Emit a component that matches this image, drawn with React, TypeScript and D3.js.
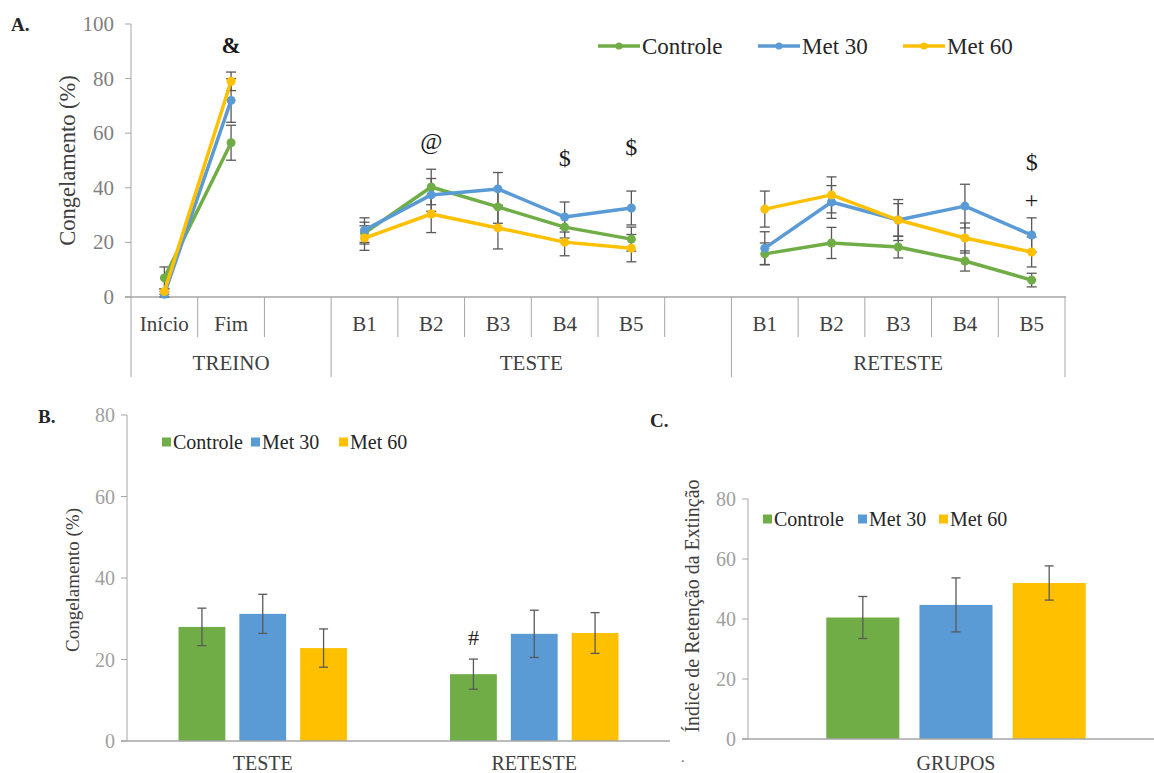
import React from 'react'
import * as d3 from 'd3'

// panel A: 14 slots (blank slots separate the phases)
const slotsA = ['Início', 'Fim', '', 'B1', 'B2', 'B3', 'B4', 'B5', '', 'B1', 'B2', 'B3', 'B4', 'B5']
const phasesA = ['TREINO', 'TESTE', 'RETESTE']
const phaseSlotsA = [[0, 3], [3, 9], [9, 14]]

const controleA = [7, 56.5, null, 23.4, 40.3, 33, 25.6, 21.2, null, 15.8, 19.8, 18.3, 13.2, 6.2]
const controleErrA = [4, 6.4, null, 4, 6.5, 6, 4, 4.4, null, 4, 5.7, 4, 3.7, 2.5]
const met30A = [1, 72, null, 24.5, 37.4, 39.6, 29.3, 32.6, null, 17.9, 34.8, 28.2, 33.3, 22.7]
const met30ErrA = [1, 8, null, 4.5, 6, 6, 5.5, 6.2, null, 6, 6, 7.5, 8, 6.3]
const met60A = [2, 79, null, 21.6, 30.4, 25.3, 20.1, 17.9, null, 32.2, 37.4, 28.2, 21.6, 16.5]
const met60ErrA = [1, 3.4, null, 4.5, 6.8, 7.7, 5, 5, null, 6.6, 6.6, 6, 5.5, 5.5]

// significance marks: slot index, symbol, height in % units
const marksSlot = [1, 4, 6, 7, 13, 13]
const marksText = ['&', '@', '$', '$', '$', '+']
const marksValue = [92, 57, 51, 55, 49.5, 35.5]

// panel B
const catsB = ['TESTE', 'RETESTE']
const controleB = [28, 16.4]
const controleErrB = [4.6, 3.7]
const met30B = [31.2, 26.3]
const met30ErrB = [4.8, 5.8]
const met60B = [22.8, 26.5]
const met60ErrB = [4.7, 5]

// panel C
const catsC = ['GRUPOS']
const controleC = [40.5]
const controleErrC = [7]
const met30C = [44.7]
const met30ErrC = [9]
const met60C = [52]
const met60ErrC = [5.7]

const seriesNames = ['Controle', 'Met 30', 'Met 60']
const colors = ['#70AD47', '#5B9BD5', '#FFC000']

const axisGray = '#A6A6A6'
const errColor = '#595959'

function PanelA() {
  const x = d3.scaleBand<number>().domain(d3.range(slotsA.length)).range([131, 1065]).padding(0)
  const y = d3.scaleLinear().domain([0, 100]).range([297, 24])
  const bw = x.bandwidth()
  const cx = (i: number) => (x(i) as number) + bw / 2
  const values = [controleA, met30A, met60A]
  const errs = [controleErrA, met30ErrA, met60ErrA]
  const line = d3
    .line<number | null>()
    .defined(d => d != null)
    .x((d, i) => cx(i))
    .y(d => y(d as number))
  const boundaries = d3.range(slotsA.length + 1)
  const phaseEdges = phaseSlotsA.flat()
  const edgeX = (b: number) => (b < slotsA.length ? (x(b) as number) : 1065)

  return (
    <g>
      <text x={11} y={31} fontSize={19} fontWeight="bold" fill="#262626">A.</text>
      {y.ticks(5).map(t => (
        <g key={t}>
          <line x1={125} x2={131} y1={y(t)} y2={y(t)} stroke={axisGray} />
          <text x={114} y={y(t)} fontSize={21} fill="#7F7F7F" textAnchor="end" dominantBaseline="central">{t}</text>
        </g>
      ))}
      <line x1={131} x2={131} y1={y(100)} y2={y(0)} stroke={axisGray} />
      <text transform={`translate(67,${(y(0) + y(100)) / 2}) rotate(-90)`} fontSize={22.5} fill="#404040" textAnchor="middle" dominantBaseline="central">Congelamento (%)</text>

      <line x1={125} x2={1066} y1={y(0)} y2={y(0)} stroke={axisGray} strokeWidth={1.5} />
      {boundaries.map(b => (
        <line key={b} x1={edgeX(b)} x2={edgeX(b)} y1={y(0)} y2={phaseEdges.includes(b) ? 377 : 337} stroke={axisGray} />
      ))}
      {slotsA.map((s, i) => (
        <text key={i} x={cx(i)} y={324} fontSize={21} fill="#404040" textAnchor="middle" dominantBaseline="central">{s}</text>
      ))}
      {phasesA.map((p, i) => {
        const [a, b] = phaseSlotsA[i]
        return <text key={p} x={(edgeX(a) + edgeX(b)) / 2} y={363} fontSize={21} fill="#404040" textAnchor="middle" dominantBaseline="central">{p}</text>
      })}

      {values.map((vals, s) => (
        <g key={s}>
          {vals.map((v, i) =>
            v == null ? null : (
              <g key={i} stroke={errColor} strokeWidth={1.3}>
                <line x1={cx(i)} x2={cx(i)} y1={y(v + (errs[s][i] as number))} y2={y(v - (errs[s][i] as number))} />
                <line x1={cx(i) - 5} x2={cx(i) + 5} y1={y(v + (errs[s][i] as number))} y2={y(v + (errs[s][i] as number))} />
                <line x1={cx(i) - 5} x2={cx(i) + 5} y1={y(v - (errs[s][i] as number))} y2={y(v - (errs[s][i] as number))} />
              </g>
            )
          )}
        </g>
      ))}
      {values.map((vals, s) => (
        <g key={s}>
          <path d={line(vals) as string} fill="none" stroke={colors[s]} strokeWidth={3.5} strokeLinejoin="round" />
          {vals.map((v, i) => (v == null ? null : <circle key={i} cx={cx(i)} cy={y(v)} r={4.5} fill={colors[s]} />))}
        </g>
      ))}

      {marksText.map((m, i) => (
        <text key={i} x={cx(marksSlot[i])} y={y(marksValue[i])} fontSize={m === '&' ? 23 : 24} fontWeight={m === '&' ? 'bold' : 'normal'} fill="#1a1a1a" textAnchor="middle" dominantBaseline="central">{m}</text>
      ))}

      {seriesNames.map((n, i) => {
        const lx = [598, 758, 903][i]
        return (
          <g key={n}>
            <line x1={lx} x2={lx + 42} y1={46} y2={46} stroke={colors[i]} strokeWidth={3.5} />
            <circle cx={lx + 21} cy={46} r={3.5} fill={colors[i]} />
            <text x={lx + 44} y={46} fontSize={23} fill="#262626" dominantBaseline="central">{n}</text>
          </g>
        )
      })}
    </g>
  )
}

type BarProps = {
  cats: string[]
  vals: number[][]
  errs: number[][]
  x0: number
  x1: number
  y0: number
  y80: number
  gap: number
  legendX: number[]
  legendY: number
}

function barScales(cats: string[], x0: number, x1: number, gap: number) {
  const x = d3.scaleBand().domain(cats).range([x0, x1]).padding(0)
  const bw = x.bandwidth()
  const groupW = bw * 0.672
  const xs = d3.scaleBand().domain(seriesNames).range([0, groupW]).paddingInner(gap).paddingOuter(gap / 2)
  const barX = (c: string, s: string) => (x(c) as number) + (bw - groupW) / 2 + (xs(s) as number)
  return { x, bw, xs, barX }
}

function BarPanel(p: BarProps) {
  const { x, bw, xs, barX } = barScales(p.cats, p.x0, p.x1, p.gap)
  const y = d3.scaleLinear().domain([0, 80]).range([p.y0, p.y80])
  return (
    <g>
      {y.ticks(4).map(t => (
        <g key={t}>
          <line x1={p.x0 - 6} x2={p.x0} y1={y(t)} y2={y(t)} stroke={axisGray} />
          <text x={p.x0 - 12} y={y(t)} fontSize={20} fill="#A0A0A0" textAnchor="end" dominantBaseline="central">{t}</text>
        </g>
      ))}
      <line x1={p.x0} x2={p.x0} y1={y(80)} y2={y(0)} stroke={axisGray} />
      {p.cats.map((c, ci) => (
        <g key={c}>
          {seriesNames.map((s, i) => {
            const v = p.vals[i][ci]
            const e = p.errs[i][ci]
            const bx = barX(c, s)
            const mx = bx + xs.bandwidth() / 2
            return (
              <g key={s}>
                <rect x={bx} y={y(v)} width={xs.bandwidth()} height={y(0) - y(v)} fill={colors[i]} />
                <g stroke={errColor} strokeWidth={1.3}>
                  <line x1={mx} x2={mx} y1={y(v + e)} y2={y(v - e)} />
                  <line x1={mx - 4.5} x2={mx + 4.5} y1={y(v + e)} y2={y(v + e)} />
                  <line x1={mx - 4.5} x2={mx + 4.5} y1={y(v - e)} y2={y(v - e)} />
                </g>
              </g>
            )
          })}
          <text x={(x(c) as number) + bw / 2} y={763} fontSize={20} fill="#404040" textAnchor="middle" dominantBaseline="central">{c}</text>
        </g>
      ))}
      <line x1={p.x0 - 6} x2={p.x1} y1={y(0)} y2={y(0)} stroke={axisGray} strokeWidth={1.5} />
      {seriesNames.map((n, i) => (
        <g key={n}>
          <rect x={p.legendX[i]} y={p.legendY - 4.5} width={9} height={9} fill={colors[i]} />
          <text x={p.legendX[i] + 11} y={p.legendY} fontSize={20} fill="#262626" dominantBaseline="central">{n}</text>
        </g>
      ))}
    </g>
  )
}

// "#" over the RETESTE Controle bar, placed through panel B's scales
function HashMark() {
  const { xs, barX } = barScales(catsB, 127, 670, 0.23)
  const y = d3.scaleLinear().domain([0, 80]).range([741, 415])
  const mx = barX('RETESTE', 'Controle') + xs.bandwidth() / 2
  return (
    <text x={mx} y={y(25.5)} fontSize={22} fill="#262626" textAnchor="middle" dominantBaseline="central">#</text>
  )
}

export default function App() {
  return (
    <svg width={1154} height={773} style={{ position: 'absolute', left: 0, top: 0, background: '#fff' }}>
      <style>{`text { font-family: "Liberation Serif", "DejaVu Serif", serif; }`}</style>
      <PanelA />

      <text x={38} y={423} fontSize={19} fontWeight="bold" fill="#262626">B.</text>
      <text transform="translate(72,580) rotate(-90)" fontSize={19} fill="#404040" textAnchor="middle" dominantBaseline="central">Congelamento (%)</text>
      <BarPanel
        cats={catsB}
        vals={[controleB, met30B, met60B]}
        errs={[controleErrB, met30ErrB, met60ErrB]}
        x0={127}
        x1={670}
        y0={741}
        y80={415}
        gap={0.23}
        legendX={[162, 251, 339]}
        legendY={442}
      />
      <HashMark />

      <text x={650} y={427} fontSize={19} fontWeight="bold" fill="#262626">C.</text>
      <text transform="translate(692,606) rotate(-90)" fontSize={20} fill="#404040" textAnchor="middle" dominantBaseline="central">Índice de Retenção da Extinção</text>
      <text x={681} y={762} fontSize={14} fill="#595959">.</text>
      <BarPanel
        cats={catsC}
        vals={[controleC, met30C, met60C]}
        errs={[controleErrC, met30ErrC, met60ErrC]}
        x0={748}
        x1={1164}
        y0={739}
        y80={499}
        gap={0.216}
        legendX={[763, 858, 939]}
        legendY={519}
      />
    </svg>
  )
}
